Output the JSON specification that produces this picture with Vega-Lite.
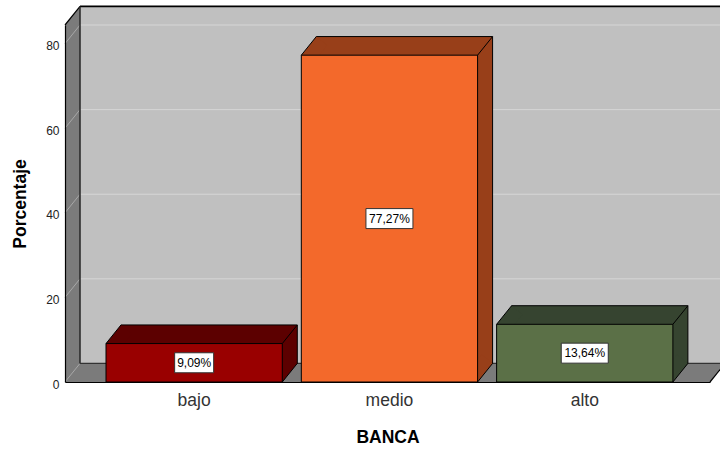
{
  "$schema": "https://vega.github.io/schema/vega-lite/v6.json",
  "width": 645,
  "height": 357,
  "autosize": {"type": "none"},
  "padding": {"left": 65, "top": 25, "right": 10, "bottom": 67},
  "background": "#ffffff",
  "config": {
    "view": {"stroke": null},
    "font": "Liberation Sans",
    "text": {"font": "Liberation Sans"}
  },
  "datasets": {
    "banca": [
      {"nivel": "bajo", "porcentaje": 9.09, "etiqueta": "9,09%"},
      {"nivel": "medio", "porcentaje": 77.27, "etiqueta": "77,27%"},
      {"nivel": "alto", "porcentaje": 13.64, "etiqueta": "13,64%"}
    ],
    "rejilla": [{"v": 20}, {"v": 40}, {"v": 60}, {"v": 80}],
    "rejillaLateral": [{"v": 0}, {"v": 20}, {"v": 40}, {"v": 60}, {"v": 80}]
  },
  "layer": [
    {
      "data": {"values": [{}]},
      "layer": [
        {
          "mark": {"type": "rect", "fill": "#7b7b7b", "x2Offset": 15, "y2Offset": -18.6},
          "encoding": {
            "x": {"datum": 0, "type": "quantitative", "scale": {"domain": [0, 1], "nice": false, "zero": false}, "axis": null},
            "x2": {"datum": 1},
            "y": {"datum": 0, "type": "quantitative", "scale": {"domain": [0, 84.4], "nice": false, "zero": false}, "axis": null},
            "y2": {"datum": 84.4}
          }
        },
        {
          "mark": {"type": "rect", "fill": "#c0c0c0", "xOffset": 15, "x2Offset": 15, "yOffset": -18.6, "y2Offset": -18.6},
          "encoding": {
            "x": {"datum": 0, "type": "quantitative", "scale": {"domain": [0, 1], "nice": false, "zero": false}, "axis": null},
            "x2": {"datum": 1},
            "y": {"datum": 0, "type": "quantitative", "scale": {"domain": [0, 84.4], "nice": false, "zero": false}, "axis": null},
            "y2": {"datum": 84.4}
          }
        },
        {
          "mark": {"type": "rule", "color": "#ffffff", "strokeWidth": 14, "strokeCap": "butt", "xOffset": -5.45, "yOffset": -4.4, "x2Offset": 9.55, "y2Offset": -23},
          "encoding": {
            "x": {"datum": 0, "type": "quantitative", "scale": {"domain": [0, 1], "nice": false, "zero": false}, "axis": null},
            "x2": {"datum": 0},
            "y": {"datum": 84.4, "type": "quantitative", "scale": {"domain": [0, 84.4], "nice": false, "zero": false}, "axis": null},
            "y2": {"datum": 84.4}
          }
        },
        {
          "mark": {"type": "rule", "color": "#ffffff", "strokeWidth": 14, "strokeCap": "butt", "xOffset": 5.45, "yOffset": 4.4, "x2Offset": 20.45, "y2Offset": -14.2},
          "encoding": {
            "x": {"datum": 1, "type": "quantitative", "scale": {"domain": [0, 1], "nice": false, "zero": false}, "axis": null},
            "x2": {"datum": 1},
            "y": {"datum": 0, "type": "quantitative", "scale": {"domain": [0, 84.4], "nice": false, "zero": false}, "axis": null},
            "y2": {"datum": 0}
          }
        },
        {
          "data": {"name": "rejilla"},
          "mark": {"type": "rule", "color": "#d6d6d6", "strokeWidth": 1, "xOffset": 15, "x2Offset": 15, "yOffset": -18.6, "y2Offset": -18.6},
          "encoding": {
            "x": {"datum": 0, "type": "quantitative", "scale": {"domain": [0, 1], "nice": false, "zero": false}, "axis": null},
            "x2": {"datum": 1},
            "y": {"field": "v", "type": "quantitative", "scale": {"domain": [0, 84.4], "nice": false, "zero": false}, "axis": null},
            "y2": {"field": "v"}
          }
        },
        {
          "data": {"name": "rejillaLateral"},
          "mark": {"type": "rule", "color": "#a8a8a8", "strokeWidth": 1, "x2Offset": 15, "y2Offset": -18.6},
          "encoding": {
            "x": {"datum": 0, "type": "quantitative", "scale": {"domain": [0, 1], "nice": false, "zero": false}, "axis": null},
            "x2": {"datum": 0},
            "y": {"field": "v", "type": "quantitative", "scale": {"domain": [0, 84.4], "nice": false, "zero": false}, "axis": null},
            "y2": {"field": "v"}
          }
        },
        {
          "mark": {"type": "rule", "color": "#000000", "strokeWidth": 1.2, "x2Offset": 15, "y2Offset": -18.6},
          "encoding": {
            "x": {"datum": 0, "type": "quantitative", "scale": {"domain": [0, 1], "nice": false, "zero": false}, "axis": null},
            "x2": {"datum": 0},
            "y": {"datum": 84.4, "type": "quantitative", "scale": {"domain": [0, 84.4], "nice": false, "zero": false}, "axis": null},
            "y2": {"datum": 84.4}
          }
        },
        {
          "mark": {"type": "rule", "color": "#000000", "strokeWidth": 1.6, "xOffset": 15, "x2Offset": 15, "yOffset": -18.6, "y2Offset": -18.6},
          "encoding": {
            "x": {"datum": 0, "type": "quantitative", "scale": {"domain": [0, 1], "nice": false, "zero": false}, "axis": null},
            "x2": {"datum": 1},
            "y": {"datum": 84.4, "type": "quantitative", "scale": {"domain": [0, 84.4], "nice": false, "zero": false}, "axis": null},
            "y2": {"datum": 84.4}
          }
        },
        {
          "mark": {"type": "rule", "color": "#262626", "strokeWidth": 1.5, "xOffset": 15, "x2Offset": 15, "yOffset": -18.6, "y2Offset": -18.6},
          "encoding": {
            "x": {"datum": 0, "type": "quantitative", "scale": {"domain": [0, 1], "nice": false, "zero": false}, "axis": null},
            "x2": {"datum": 0},
            "y": {"datum": 0, "type": "quantitative", "scale": {"domain": [0, 84.4], "nice": false, "zero": false}, "axis": null},
            "y2": {"datum": 84.4}
          }
        },
        {
          "mark": {"type": "rule", "color": "#333333", "strokeWidth": 1.2, "xOffset": 15, "x2Offset": 15, "yOffset": -18.6, "y2Offset": -18.6},
          "encoding": {
            "x": {"datum": 0, "type": "quantitative", "scale": {"domain": [0, 1], "nice": false, "zero": false}, "axis": null},
            "x2": {"datum": 1},
            "y": {"datum": 0, "type": "quantitative", "scale": {"domain": [0, 84.4], "nice": false, "zero": false}, "axis": null},
            "y2": {"datum": 0}
          }
        },
        {
          "mark": {"type": "rule", "color": "#000000", "strokeWidth": 1.2, "x2Offset": 15, "y2Offset": -18.6},
          "encoding": {
            "x": {"datum": 1, "type": "quantitative", "scale": {"domain": [0, 1], "nice": false, "zero": false}, "axis": null},
            "x2": {"datum": 1},
            "y": {"datum": 0, "type": "quantitative", "scale": {"domain": [0, 84.4], "nice": false, "zero": false}, "axis": null},
            "y2": {"datum": 0}
          }
        }
      ]
    },
    {
      "data": {"name": "banca"},
      "layer": [
        {
          "mark": {"type": "bar", "xOffset": 15, "x2Offset": 15, "yOffset": -18.6, "y2Offset": -18.6, "stroke": "#000000", "strokeWidth": 1},
          "encoding": {
            "x": {"field": "nivel", "type": "nominal", "scale": {"domain": ["bajo", "medio", "alto"], "paddingInner": 0.0974, "paddingOuter": 0.2, "align": 0.525}, "axis": null},
            "y": {"field": "porcentaje", "type": "quantitative", "scale": {"domain": [0, 84.4], "nice": false, "zero": false}, "axis": null},
            "y2": {"datum": 0},
            "color": {
              "field": "nivel", "type": "nominal",
              "scale": {"domain": ["bajo", "medio", "alto"], "range": ["#5c0000", "#983f19", "#364430"]},
              "legend": null
            }
          }
        },
        {
          "mark": {"type": "rule", "strokeWidth": 14, "strokeCap": "butt", "xOffset": 5.45, "yOffset": 4.4, "x2Offset": 20.45, "y2Offset": -14.2},
          "encoding": {
            "x": {"field": "nivel", "type": "nominal", "bandPosition": 0, "scale": {"domain": ["bajo", "medio", "alto"], "paddingInner": 0.0974, "paddingOuter": 0.2, "align": 0.525}, "axis": null},
            "x2": {"field": "nivel", "bandPosition": 0},
            "y": {"field": "porcentaje", "type": "quantitative", "scale": {"domain": [0, 84.4], "nice": false, "zero": false}, "axis": null},
            "y2": {"field": "porcentaje"},
            "color": {"field": "nivel", "type": "nominal", "scale": {"domain": ["bajo", "medio", "alto"], "range": ["#5c0000", "#983f19", "#364430"]}, "legend": null}
          }
        },
        {
          "mark": {"type": "rule", "strokeWidth": 14, "strokeCap": "butt", "xOffset": -5.45, "yOffset": -4.4, "x2Offset": 9.55, "y2Offset": -23},
          "encoding": {
            "x": {"field": "nivel", "type": "nominal", "bandPosition": 1, "scale": {"domain": ["bajo", "medio", "alto"], "paddingInner": 0.0974, "paddingOuter": 0.2, "align": 0.525}, "axis": null},
            "x2": {"field": "nivel", "bandPosition": 1},
            "y": {"datum": 0, "type": "quantitative", "scale": {"domain": [0, 84.4], "nice": false, "zero": false}, "axis": null},
            "y2": {"datum": 0},
            "color": {"field": "nivel", "type": "nominal", "scale": {"domain": ["bajo", "medio", "alto"], "range": ["#5c0000", "#983f19", "#364430"]}, "legend": null}
          }
        },
        {
          "mark": {"type": "bar", "stroke": "#000000", "strokeWidth": 1},
          "encoding": {
            "x": {"field": "nivel", "type": "nominal", "scale": {"domain": ["bajo", "medio", "alto"], "paddingInner": 0.0974, "paddingOuter": 0.2, "align": 0.525}, "axis": null},
            "y": {"field": "porcentaje", "type": "quantitative", "scale": {"domain": [0, 84.4], "nice": false, "zero": false}, "axis": null},
            "y2": {"datum": 0},
            "fill": {"field": "nivel", "type": "nominal", "scale": {"domain": ["bajo", "medio", "alto"], "range": ["#990000", "#f3692b", "#5b7047"]}, "legend": null}
          }
        },
        {
          "mark": {"type": "rule", "color": "#000000", "strokeWidth": 1, "x2Offset": 15, "y2Offset": -18.6},
          "encoding": {
            "x": {"field": "nivel", "type": "nominal", "bandPosition": 0, "scale": {"domain": ["bajo", "medio", "alto"], "paddingInner": 0.0974, "paddingOuter": 0.2, "align": 0.525}, "axis": null},
            "x2": {"field": "nivel", "bandPosition": 0},
            "y": {"field": "porcentaje", "type": "quantitative", "scale": {"domain": [0, 84.4], "nice": false, "zero": false}, "axis": null},
            "y2": {"field": "porcentaje"}
          }
        },
        {
          "mark": {"type": "rule", "color": "#000000", "strokeWidth": 1, "x2Offset": 15, "y2Offset": -18.6},
          "encoding": {
            "x": {"field": "nivel", "type": "nominal", "bandPosition": 1, "scale": {"domain": ["bajo", "medio", "alto"], "paddingInner": 0.0974, "paddingOuter": 0.2, "align": 0.525}, "axis": null},
            "x2": {"field": "nivel", "bandPosition": 1},
            "y": {"field": "porcentaje", "type": "quantitative", "scale": {"domain": [0, 84.4], "nice": false, "zero": false}, "axis": null},
            "y2": {"field": "porcentaje"}
          }
        },
        {
          "mark": {"type": "rule", "color": "#000000", "strokeWidth": 1, "x2Offset": 15, "y2Offset": -18.6},
          "encoding": {
            "x": {"field": "nivel", "type": "nominal", "bandPosition": 1, "scale": {"domain": ["bajo", "medio", "alto"], "paddingInner": 0.0974, "paddingOuter": 0.2, "align": 0.525}, "axis": null},
            "x2": {"field": "nivel", "bandPosition": 1},
            "y": {"datum": 0, "type": "quantitative", "scale": {"domain": [0, 84.4], "nice": false, "zero": false}, "axis": null},
            "y2": {"datum": 0}
          }
        }
      ]
    },
    {
      "data": {"name": "banca"},
      "layer": [
        {
          "mark": {"type": "bar", "fill": "#ffffff", "stroke": "#333333", "strokeWidth": 1, "yOffset": -10, "y2Offset": 10},
          "encoding": {
            "x": {"field": "nivel", "type": "nominal", "scale": {"domain": ["bajo", "medio", "alto"], "paddingInner": 0.0974, "paddingOuter": 0.2, "align": 0.525}, "axis": null},
            "y": {"field": "porcentaje", "type": "quantitative", "scale": {"domain": [0, 168.8], "nice": false, "zero": false}, "axis": null},
            "y2": {"field": "porcentaje"},
            "size": {"field": "nivel", "type": "nominal", "scale": {"type": "ordinal", "domain": ["bajo", "medio", "alto"], "range": [39, 47, 47]}, "legend": null}
          }
        },
        {
          "mark": {"type": "text", "font": "Liberation Sans", "fontSize": 12, "color": "#000000", "align": "center", "baseline": "middle"},
          "encoding": {
            "x": {"field": "nivel", "type": "nominal", "scale": {"domain": ["bajo", "medio", "alto"], "paddingInner": 0.0974, "paddingOuter": 0.2, "align": 0.525}, "axis": null},
            "y": {"field": "porcentaje", "type": "quantitative", "scale": {"domain": [0, 168.8], "nice": false, "zero": false}, "axis": null},
            "text": {"field": "etiqueta"}
          }
        }
      ],
      "resolve": {"scale": {"size": "independent"}}
    },
    {
      "data": {"name": "banca"},
      "mark": {"type": "bar", "opacity": 0},
      "encoding": {
        "x": {
          "field": "nivel", "type": "nominal",
          "scale": {"domain": ["bajo", "medio", "alto"], "paddingInner": 0.0974, "paddingOuter": 0.2, "align": 0.525},
          "axis": {
            "orient": "bottom", "zindex": 1, "title": "BANCA", "labelAngle": 0, "ticks": false,
            "domain": true, "domainColor": "#000000", "domainWidth": 1.2,
            "labelFont": "Liberation Sans", "labelFontSize": 17.5, "labelColor": "#333333", "labelPadding": 9,
            "titleFont": "Liberation Sans", "titleFontSize": 17.5, "titleFontWeight": "bold", "titleColor": "#000000", "titlePadding": 20
          }
        },
        "y": {
          "field": "porcentaje", "type": "quantitative",
          "scale": {"domain": [0, 84.4], "nice": false, "zero": false},
          "axis": {
            "orient": "left", "zindex": 1, "title": "Porcentaje", "values": [0, 20, 40, 60, 80], "ticks": false, "grid": false,
            "domain": true, "domainColor": "#000000", "domainWidth": 1.2,
            "labelFont": "Liberation Sans", "labelFontSize": 12, "labelColor": "#222222", "labelPadding": 6, "labelOffset": 2,
            "titleFont": "Liberation Sans", "titleFontSize": 17.5, "titleFontWeight": "bold", "titleColor": "#000000", "titlePadding": 16
          }
        }
      }
    }
  ],
  "resolve": {"scale": {"x": "independent", "y": "independent", "color": "independent", "fill": "independent", "size": "independent"}}
}
